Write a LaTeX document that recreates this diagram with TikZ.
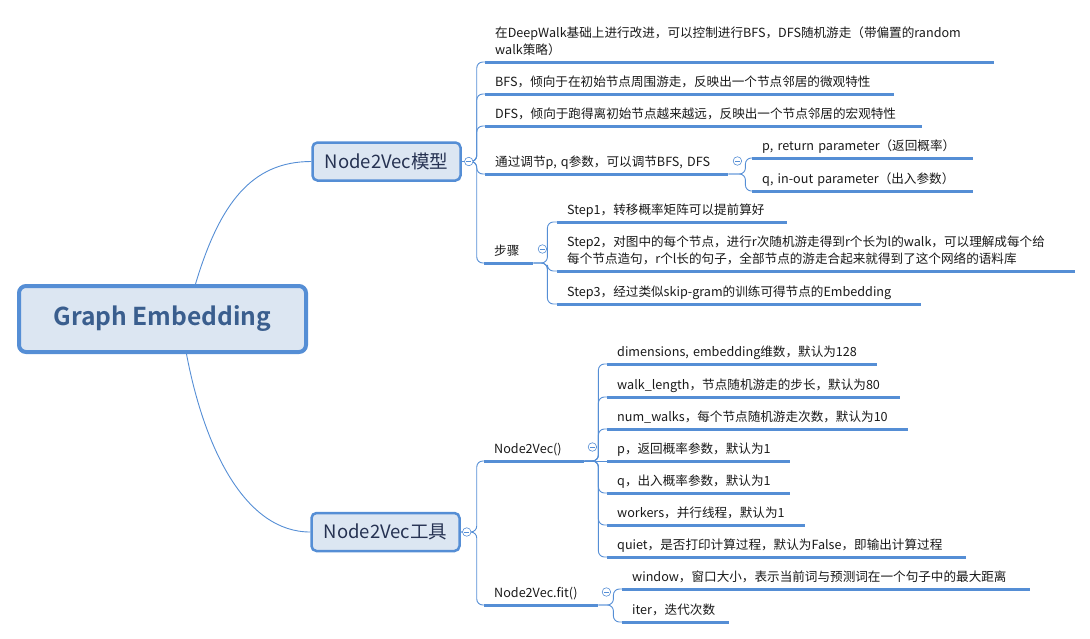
\documentclass[tikz,border=0pt]{standalone}
\usepackage{fontspec}
\setmainfont{Noto Sans CJK SC}[BoldFont={Noto Sans CJK SC Bold}]
\exhyphenpenalty=10000
\hyphenpenalty=10000
\definecolor{mapblue}{RGB}{85,142,213}
\definecolor{boxfill}{RGB}{220,230,242}
\definecolor{roottext}{RGB}{58,94,142}
\definecolor{topictext}{RGB}{38,50,82}
\definecolor{leaftext}{RGB}{25,25,25}
\tikzset{
  root/.style={draw=mapblue, fill=boxfill, line width=4pt, rounded corners=7pt,
    minimum width=287pt, minimum height=66pt, text=roottext,
    font=\fontsize{24.6}{28}\selectfont\bfseries},
  topic/.style={draw=mapblue, fill=boxfill, line width=2.5pt, rounded corners=5pt,
    minimum width=148pt, minimum height=38pt, text=topictext,
    font=\fontsize{18.5}{20}\selectfont},
  leaf/.style={anchor=south west, align=left, text width=#1, inner xsep=10pt,
    inner ysep=7.5pt, text depth=0pt, text=leaftext,
    font=\fontsize{12.6}{17}\selectfont},
  uline/.style={draw=mapblue, line width=3pt},
  branch/.style={draw=mapblue, line width=0.9pt, rounded corners=6pt},
  fold/.style={circle, draw=mapblue, fill=white, line width=0.6pt, inner sep=0pt,
    minimum size=8.5pt, path picture={\draw[mapblue, line width=0.6pt]
      ([xshift=-2.3pt]path picture bounding box.center) --
      ([xshift=2.3pt]path picture bounding box.center);}}
}
\begin{document}
\begin{tikzpicture}[x=1pt, y=-1pt]
\useasboundingbox (0,0) rectangle (1090,638);
\node[root] (ge) at (162.5,319) {Graph Embedding};
\node[topic] (nm) at (386.5,161.5) {Node2Vec模型};
\node[topic] (nt) at (385.5,532) {Node2Vec工具};
\node[leaf=489pt, text depth=17pt] (dw) at (485,62) {在DeepWalk基础上进行改进，可以控制进行BFS，DFS随机游走（带偏置的random\\walk策略）};
\node[leaf=389pt] (bfs) at (485,94) {BFS，倾向于在初始节点周围游走，反映出一个节点邻居的微观特性};
\node[leaf=417pt] (dfs) at (485,126) {DFS，倾向于跑得离初始节点越来越远，反映出一个节点邻居的宏观特性};
\node[leaf=223pt] (pq) at (485,174) {通过调节p,~q参数，可以调节BFS,~DFS};
\node[leaf=201pt] (pr) at (752,158) {p,~return~parameter（返回概率）};
\node[leaf=201pt] (qi) at (752,191) {q,~in-out~parameter（出入参数）};
\node[leaf=29pt] (bz) at (484,263) {步骤};
\node[leaf=210pt] (s1) at (557,222) {Step1，转移概率矩阵可以提前算好};
\node[leaf=498pt, text depth=17pt] (s2) at (557,271) {Step2，对图中的每个节点，进行r次随机游走得到r个长为l的walk，可以理解成每个给\\每个节点造句，r个l长的句子，全部节点的游走合起来就得到了这个网络的语料库};
\node[leaf=344pt] (s3) at (557,304) {Step3，经过类似skip-gram的训练可得节点的Embedding};
\node[leaf=80pt] (nv) at (484,461) {Node2Vec()};
\node[leaf=250pt] (dim) at (607,364) {dimensions,~embedding维数，默认为128};
\node[leaf=273pt] (wl) at (607,397) {walk\_length，节点随机游走的步长，默认为80};
\node[leaf=281pt] (nw) at (607,429) {num\_walks，每个节点随机游走次数，默认为10};
\node[leaf=163pt] (pp) at (607,461) {p，返回概率参数，默认为1};
\node[leaf=163pt] (qq) at (607,493) {q，出入概率参数，默认为1};
\node[leaf=178pt] (wk) at (607,525) {workers，并行线程，默认为1};
\node[leaf=339pt] (qt) at (607,557) {quiet，是否打印计算过程，默认为False，即输出计算过程};
\node[leaf=94pt] (fit) at (484,605) {Node2Vec.fit()};
\node[leaf=388pt] (win) at (622,589) {window，窗口大小，表示当前词与预测词在一个句子中的最大距离};
\node[leaf=87pt] (it) at (622,622) {iter，迭代次数};
\draw[branch] ([xshift=33pt]ge.north) .. controls +(24,-80) and +(-60,0) .. (nm.west);
\draw[branch] ([xshift=24pt]ge.south) .. controls +(18,95) and +(-65,0) .. (nt.west);
\foreach \n in {dw,bfs,dfs,pq,bz}
  \draw[branch] (nm.east) -- ++(15,0) |- (\n.south west);
\foreach \n in {pr,qi}
  \draw[branch] (pq.south east) -- ++(17,0) |- (\n.south west);
\foreach \n in {s1,s2,s3}
  \draw[branch] (bz.south east) -- ++(14,0) |- (\n.south west);
\foreach \n in {nv,fit}
  \draw[branch] (nt.east) -- ++(16,0) |- (\n.south west);
\foreach \n in {dim,wl,nw,qq,wk,qt}
  \draw[branch] (nv.south east) -- ++(14,0) |- (\n.south west);
\draw[branch] (nv.south east) -- (pp.south west);
\foreach \n in {win,it}
  \draw[branch] (fit.south east) -- ++(15,0) |- (\n.south west);
\foreach \n in {dw,bfs,dfs,pq,pr,qi,bz,s1,s2,s3,nv,dim,wl,nw,pp,qq,wk,qt,fit,win,it}
  \draw[uline] (\n.south west) -- (\n.south east);
\node[fold] (fm) at ([xshift=7pt]nm.east) {};
\node[fold] (ft) at ([xshift=6pt]nt.east) {};
\node[fold] (fpq) at ([shift={(9,-13)}]pq.south east) {};
\node[fold] (fbz) at ([shift={(9,-14)}]bz.south east) {};
\node[fold] (fnv) at ([shift={(8,-14)}]nv.south east) {};
\node[fold] (ffit) at ([shift={(8,-13)}]fit.south east) {};
\end{tikzpicture}
\end{document}
